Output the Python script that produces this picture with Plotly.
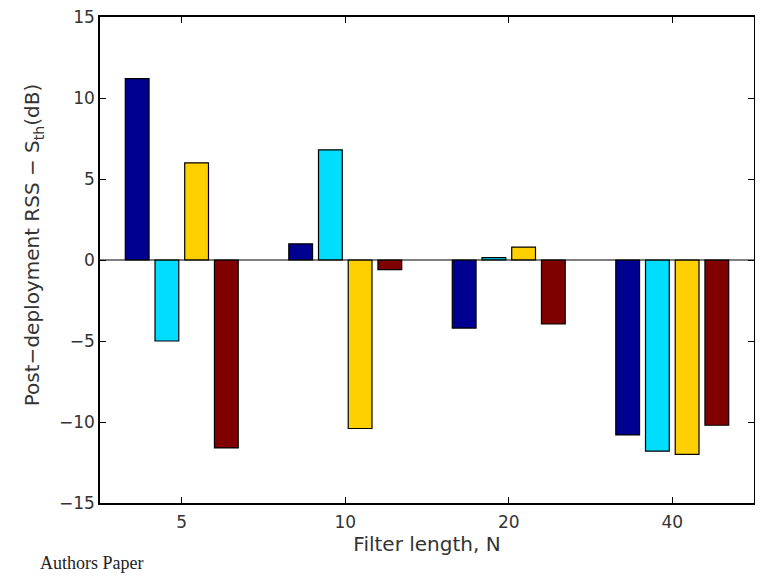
import plotly.graph_objects as go

categories = ["5", "10", "20", "40"]
positions = [1, 2, 3, 4]
series_a = [11.2, 1.0, -4.2, -10.8]
series_b = [-5.0, 6.8, 0.15, -11.8]
series_c = [6.0, -10.4, 0.8, -12.0]
series_d = [-11.6, -0.6, -3.95, -10.2]
colors = ["#000090", "#00DDFF", "#FFD000", "#800000"]
y_ticks = [-15, -10, -5, 0, 5, 10, 15]

fig = go.Figure()
for vals, col in zip([series_a, series_b, series_c, series_d], colors):
    fig.add_trace(go.Bar(x=positions, y=vals, marker=dict(color=col, line=dict(color="black", width=1.2)),
                         showlegend=False))

fig.add_shape(type="line", xref="paper", x0=0, x1=1, yref="y", y0=0, y1=0,
              line=dict(color="black", width=1.2), layer="above")

fig.add_annotation(text="Authors Paper", xref="paper", yref="paper", x=-0.095, y=-0.123,
                   xanchor="left", yanchor="middle", showarrow=False,
                   font=dict(family="Liberation Serif", size=18, color="#222"))

fig.add_annotation(text="Post\u2212deployment RSS \u2212 S<sub>th</sub>(dB)", xref="paper", yref="paper",
                   x=-0.102, y=0.531, xanchor="center", yanchor="middle", textangle=-90,
                   showarrow=False, font=dict(family="DejaVu Sans", size=20, color="#333"))

fig.update_layout(
    width=755, height=568,
    margin=dict(l=92, r=9, t=9, b=73),
    paper_bgcolor="white", plot_bgcolor="white",
    barmode="group", bargap=0.273, bargroupgap=0.2,
    font=dict(family="DejaVu Sans", size=17, color="#333"),
    xaxis=dict(range=[0.5, 4.5], tickvals=positions, ticktext=categories, automargin=False,
               ticks="inside", ticklen=6, tickcolor="black", mirror="ticks", ticklabelstandoff=3,
               ticklabeloverflow="allow",
               showline=True, linecolor="black", linewidth=1.5, showgrid=False, zeroline=False,
               title=dict(text="Filter length, N", standoff=3, font=dict(size=20))),
    yaxis=dict(range=[-15, 15], tickvals=y_ticks, automargin=False, ticklabeloverflow="allow",
               ticks="inside", ticklen=6, tickcolor="black", mirror="ticks",
               showline=True, linecolor="black", linewidth=1.5, showgrid=False, zeroline=False),
)

fig.write_html("out.html")
